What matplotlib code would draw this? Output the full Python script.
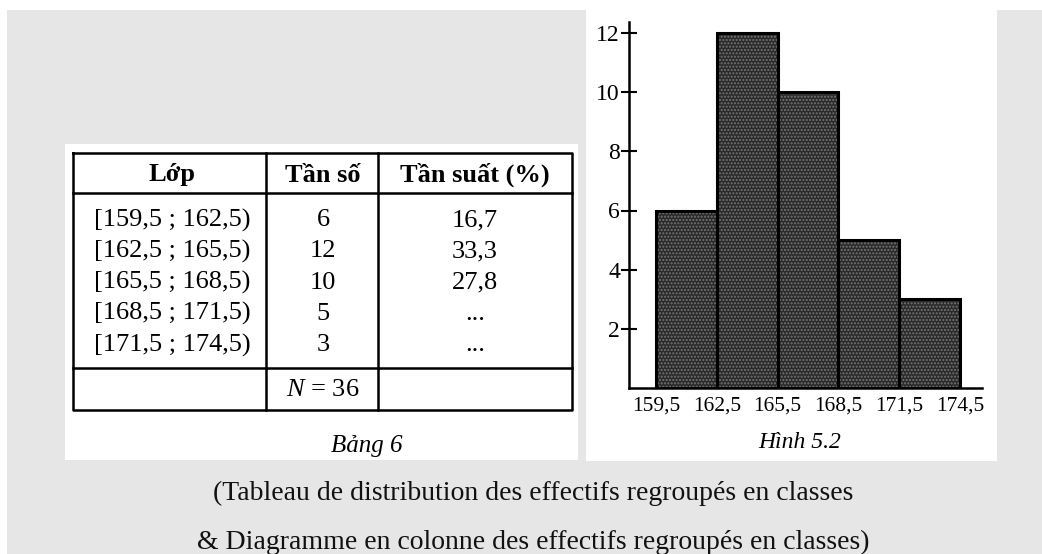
import matplotlib.pyplot as plt
from matplotlib.patches import Rectangle

# data
classes = ["[159,5 ; 162,5)", "[162,5 ; 165,5)", "[165,5 ; 168,5)",
           "[168,5 ; 171,5)", "[171,5 ; 174,5)"]
edges = [159.5, 162.5, 165.5, 168.5, 171.5, 174.5]
freqs = [6, 12, 10, 5, 3]
rel_freqs = ["16,7", "33,3", "27,8", "...", "..."]
headers = ["Lớp", "Tần số", "Tần suất (%)"]
total_label = "$N$ = 36"
yticks = [2, 4, 6, 8, 10, 12]
xtick_labels = ["159,5", "162,5", "165,5", "168,5", "171,5", "174,5"]
caption = ["(Tableau de distribution des effectifs regroupés en classes",
           "& Diagramme en colonne des effectifs regroupés en classes)"]

W, H = 1042, 554
plt.rcParams['font.family'] = ['Liberation Serif', 'DejaVu Serif']
plt.rcParams['mathtext.fontset'] = 'custom'
plt.rcParams['mathtext.rm'] = 'Liberation Serif'
plt.rcParams['mathtext.it'] = 'Liberation Serif:italic'

fig = plt.figure(figsize=(W / 100, H / 100), dpi=100, facecolor='white')

# background layer in pixel coordinates
bg = fig.add_axes([0, 0, 1, 1])
bg.set_xlim(0, W)
bg.set_ylim(H, 0)
bg.axis('off')
bg.add_patch(Rectangle((7, 10), W - 7, H - 10, color='#e6e6e6', lw=0))
bg.add_patch(Rectangle((65, 144), 513, 316, color='white', lw=0))
bg.add_patch(Rectangle((586, 10), 411, 451, color='white', lw=0))

# table
lw = 1.8
x0, x1, xa, xb = 73, 572, 266, 378
y0, y1, yh, yf = 153, 410, 193, 368
bg.plot([x0, x1, x1, x0, x0], [y0, y0, y1, y1, y0], color='black', lw=lw)
bg.plot([x0, x1], [yh, yh], color='black', lw=lw)
bg.plot([x0, x1], [yf, yf], color='black', lw=lw)
bg.plot([xa, xa], [y0, y1], color='black', lw=lw)
bg.plot([xb, xb], [y0, y1], color='black', lw=lw)

col_x = [172, 323, 475]
for cx, h in zip(col_x, headers):
    bg.text(cx, 175, h, ha='center', va='center', fontsize=19, fontweight='bold')
for i, (c, f, r) in enumerate(zip(classes, freqs, rel_freqs)):
    y = 220 + 31.3 * i
    bg.text(col_x[0], y, c, ha='center', va='center', fontsize=19)
    bg.text(col_x[1], y, str(f), ha='center', va='center', fontsize=19)
    bg.text(col_x[2], y, r, ha='center', va='center', fontsize=19)
bg.text(col_x[1], 390, total_label, ha='center', va='center', fontsize=19)
bg.text(367, 446, "Bảng 6", ha='center', va='center', fontsize=18, style='italic')

# caption
bg.text(533, 493, caption[0], ha='center', va='center', fontsize=20, color='#111111')
bg.text(533, 542, caption[1], ha='center', va='center', fontsize=20, color='#111111')
bg.text(800, 443, "Hình 5.2", ha='center', va='center', fontsize=17, style='italic')

# histogram
ax_l, ax_r, ax_b, ax_t = 629, 982, 388, 22
ax = fig.add_axes([ax_l / W, 1 - ax_b / H, (ax_r - ax_l) / W, (ax_b - ax_t) / H])
ax.patch.set_alpha(0)
px_per_x = (960 - 656) / (edges[-1] - edges[0])
px_per_y = (388 - 33) / 12
ax.set_xlim(edges[0] - (656 - ax_l) / px_per_x, edges[-1] + (ax_r - 960) / px_per_x)
ax.set_ylim(0, (ax_b - ax_t) / px_per_y)
# speckled fill, then black outlines
ax.bar(edges[:-1], freqs, width=3, align='edge', color='#2a2a2a',
       edgecolor='#767676', linewidth=0, hatch='.....')
ax.bar(edges[:-1], freqs, width=3, align='edge', fill=False,
       edgecolor='black', linewidth=2.2)
for s in ['top', 'right']:
    ax.spines[s].set_visible(False)
for s in ['left', 'bottom']:
    ax.spines[s].set_linewidth(1.8)
ax.set_yticks(yticks)
ax.set_yticklabels([str(v) for v in yticks], fontsize=17)
ax.tick_params(axis='y', direction='inout', length=11, width=1.5, pad=1)
ax.set_xticks(edges)
ax.set_xticklabels(xtick_labels, fontsize=15.5)
ax.tick_params(axis='x', length=0, pad=6)

fig.savefig('out.png', dpi=100)
